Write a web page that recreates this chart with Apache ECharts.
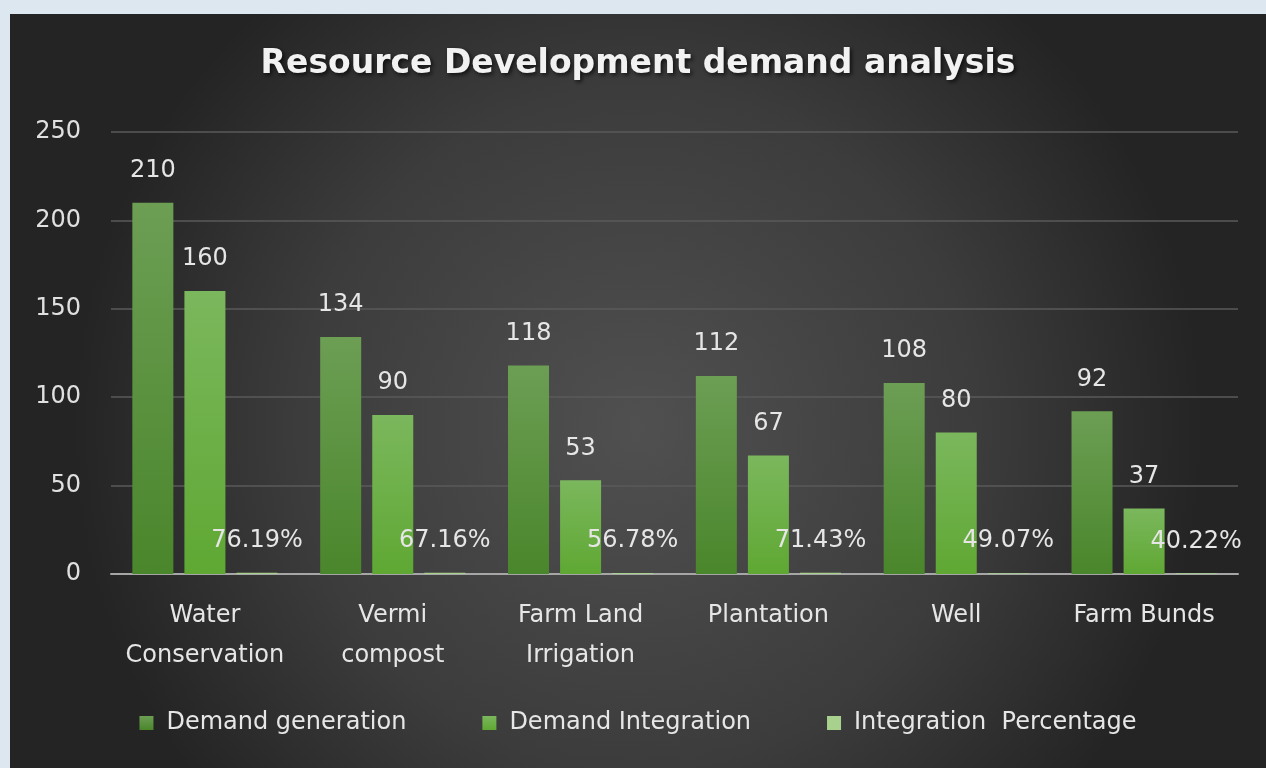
<!DOCTYPE html>
<html>
<head>
<meta charset="utf-8">
<script src="https://cdn.jsdelivr.net/npm/echarts@6/dist/echarts.min.js"></script>
<style>
html,body{margin:0;padding:0;background:#dce7ef;width:1266px;height:768px;overflow:hidden;}
#chart{position:absolute;left:10px;top:14px;width:1256px;height:754px;}
</style>
</head>
<body>
<div id="chart"></div>
<script>
const categories = ['Water\nConservation', 'Vermi\ncompost', 'Farm Land\nIrrigation', 'Plantation', 'Well', 'Farm Bunds'];
const demandGeneration = [210, 134, 118, 112, 108, 92];
const demandIntegration = [160, 90, 53, 67, 80, 37];
const integrationPercentage = [76.19, 67.16, 56.78, 71.43, 49.07, 40.22];
const yTicks = { min: 0, max: 250, interval: 50 };

const chart = echarts.init(document.getElementById('chart'));
const font = '"DejaVu Sans", sans-serif';
const labelStyle = { show: true, position: 'top', distance: 20, color: '#e6e6e6', fontSize: 24, fontFamily: font };

chart.setOption({
  backgroundColor: {
    type: 'radial', x: 0.5, y: 0.55, r: 0.75,
    colorStops: [
      { offset: 0, color: '#505050' },
      { offset: 0.6, color: '#3c3c3c' },
      { offset: 1, color: '#242424' }
    ]
  },
  animation: false,
  title: {
    text: 'Resource Development demand analysis',
    left: 'center', top: 29,
    textStyle: {
      color: '#f2f2f2', fontSize: 33, fontWeight: 'bold', fontFamily: font,
      textShadowColor: 'rgba(0,0,0,0.7)', textShadowBlur: 4, textShadowOffsetX: 2, textShadowOffsetY: 2
    }
  },
  legend: {
    bottom: 28, left: 'center', itemGap: 76, itemWidth: 14, itemHeight: 14, icon: 'rect',
    textStyle: { color: '#e6e6e6', fontSize: 24, fontFamily: font, padding: [0, 0, 0, 8] }
  },
  grid: { left: 101, right: 28, top: 118, bottom: 194 },
  xAxis: {
    type: 'category', data: categories,
    axisLine: { lineStyle: { color: '#a6a6a6', width: 2 } },
    axisTick: { show: false },
    axisLabel: { color: '#e6e6e6', fontSize: 24, fontFamily: font, lineHeight: 40, margin: 22, interval: 0 }
  },
  yAxis: {
    type: 'value', min: yTicks.min, max: yTicks.max, interval: yTicks.interval,
    axisLine: { show: false }, axisTick: { show: false },
    splitLine: { lineStyle: { color: '#5a5a5a', width: 1.5 } },
    axisLabel: { color: '#e0e0e0', fontSize: 24, fontFamily: font, margin: 30 }
  },
  series: [
    {
      name: 'Demand generation', type: 'bar', data: demandGeneration, barWidth: 41, barGap: '27%',
      itemStyle: { color: { type: 'linear', x: 0, y: 0, x2: 0, y2: 1, colorStops: [{ offset: 0, color: '#6c9e54' }, { offset: 1, color: '#4a862b' }] } },
      label: labelStyle
    },
    {
      name: 'Demand Integration', type: 'bar', data: demandIntegration, barWidth: 41, barGap: '27%',
      itemStyle: { color: { type: 'linear', x: 0, y: 0, x2: 0, y2: 1, colorStops: [{ offset: 0, color: '#7bb75d' }, { offset: 1, color: '#5fa833' }] } },
      label: labelStyle
    },
    {
      name: 'Integration  Percentage', type: 'bar', data: integrationPercentage.map(v => v / 100), barWidth: 41, barGap: '27%',
      itemStyle: { color: '#a9d18e' },
      label: Object.assign({}, labelStyle, { formatter: p => integrationPercentage[p.dataIndex].toFixed(2) + '%' })
    }
  ]
});
</script>
</body>
</html>
